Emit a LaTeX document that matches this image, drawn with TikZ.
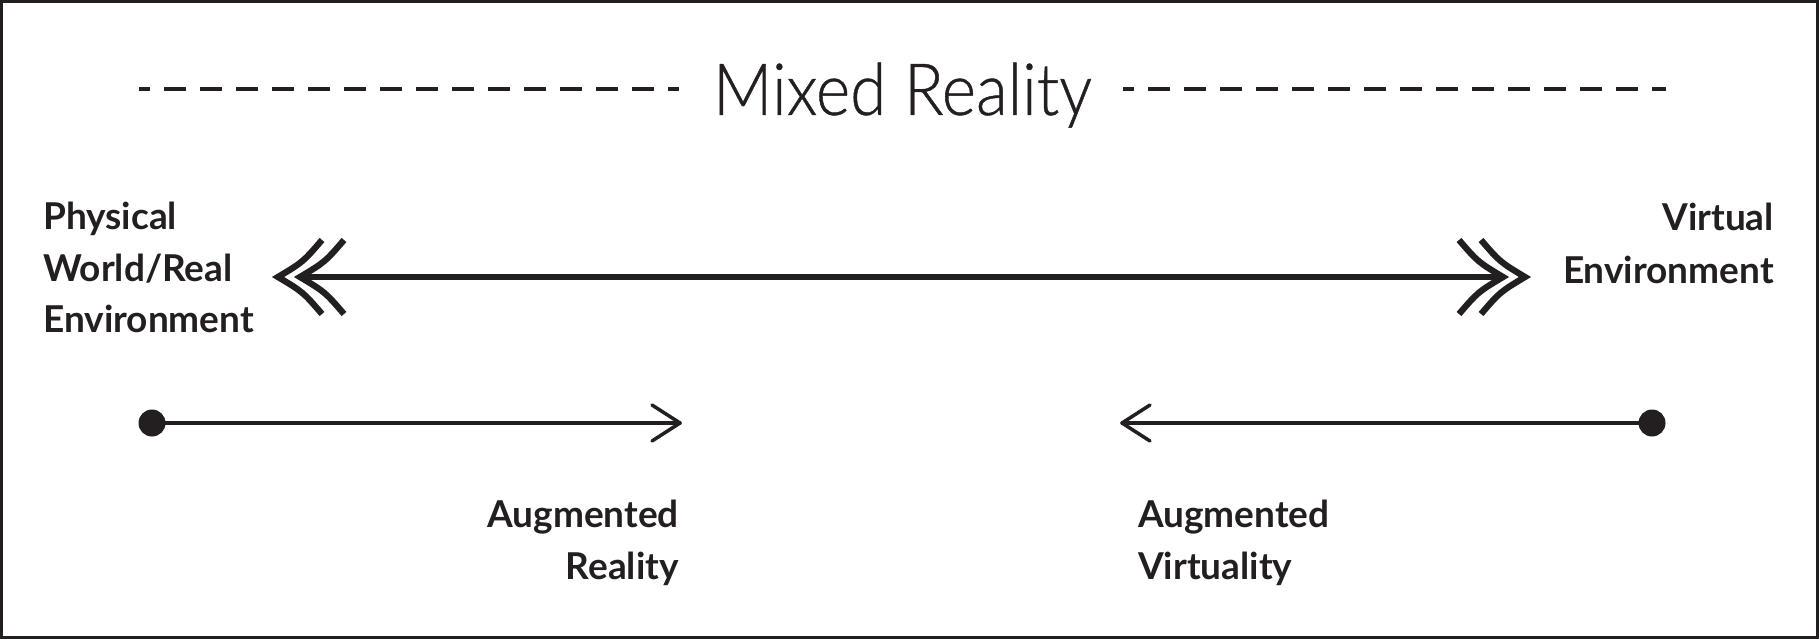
\documentclass[tikz,border=0pt]{standalone}
\usepackage{fontspec}
\setmainfont{Lato}
\newfontfamily\lightfont{Lato Light}[FakeBold=0.6]
\definecolor{ink}{RGB}{35,31,32}
\begin{document}
\begin{tikzpicture}[x=1pt,y=-1pt,
  dashline/.style={ink, line width=3.5pt, dash pattern=on 22pt off 14pt, dash phase=11pt},
  thick arrow/.style={ink, line width=5.5pt},
  chevron/.style={ink, line width=6.3pt},
  thin arrow/.style={ink, line width=3.5pt, line cap=round, line join=round},
  dotnode/.style={circle, fill=ink, minimum size=27pt, inner sep=0pt},
  bigtitle/.style={font=\lightfont\fontsize{72}{80}\selectfont, text=ink, inner sep=0pt, anchor=base},
  lbl/.style={font=\bfseries\fontsize{37}{51.5}\selectfont, text=ink, inner sep=0pt}]
\useasboundingbox (0,0) rectangle (1819,639);
\draw[ink, line width=3pt] (1.5,1.5) rectangle (1817.5,637.5);
% title and dashes
\node[bigtitle] (title) at (902.5,115) {\scalebox{0.91}[1]{Mixed Reality}};
\coordinate (dl1) at (139,89); \coordinate (dl2) at (679,89);
\coordinate (dr1) at (1123,89); \coordinate (dr2) at (1666,89);
\draw[dashline] (dl1) -- (dl2);
\draw[dashline] (dr1) -- (dr2);
% labels
\node[lbl, anchor=north west, align=left] (phys) at (43,202) {Physical\\World/Real\\Environment};
\node[lbl, anchor=north east, align=right, font=\bfseries\fontsize{37}{53}\selectfont] (virt) at (1774,203) {Virtual\\Environment};
\node[lbl, anchor=north east, align=right] (ar) at (679,500) {Augmented\\Reality};
\node[lbl, anchor=north west, align=left] (av) at (1138,500) {Augmented\\Virtuality};
% big double arrow
\coordinate (bl) at (300,277); \coordinate (br) at (1503,277);
\draw[thick arrow] (bl) -- (br);
\foreach \t in {278,300}{
  \draw[chevron] (\t+44,240) .. controls (\t+25,262) .. (\t,277) .. controls (\t+25,292) .. (\t+44,314);
}
\foreach \t in {1503,1525}{
  \draw[chevron] (\t-44,240) .. controls (\t-25,262) .. (\t,277) .. controls (\t-25,292) .. (\t-44,314);
}
% thin arrows
\node[dotnode] (d1) at (152,423) {};
\node[dotnode] (d2) at (1652,423) {};
\coordinate (a1) at (680,423); \coordinate (a2) at (1122,423);
\draw[thin arrow] (d1.center) -- (a1);
\draw[thin arrow] (a1) -- ++(-28,-18) (a1) -- ++(-28,18);
\draw[thin arrow] (d2.center) -- (a2);
\draw[thin arrow] (a2) -- ++(28,-18) (a2) -- ++(28,18);
\end{tikzpicture}
\end{document}
